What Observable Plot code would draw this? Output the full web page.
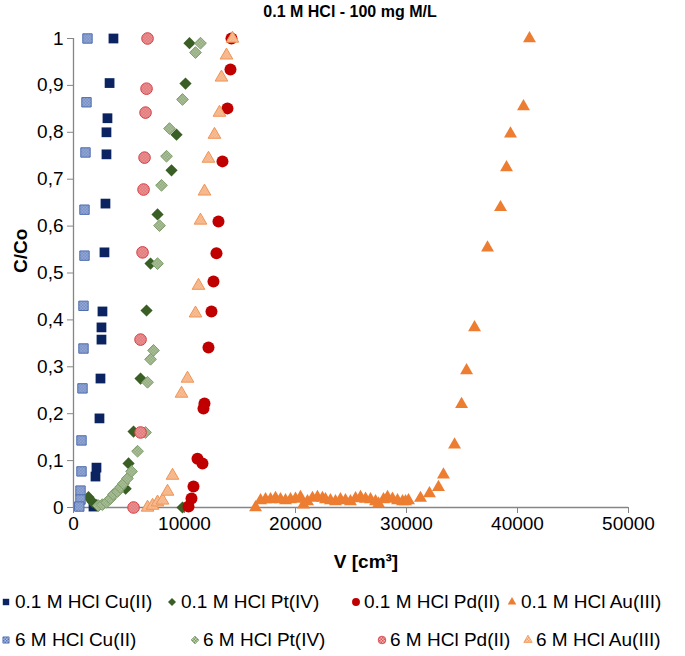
<!DOCTYPE html>
<html><head><meta charset="utf-8">
<script src="https://cdn.jsdelivr.net/npm/d3@7"></script>
<script src="https://cdn.jsdelivr.net/npm/@observablehq/plot@0.6"></script>
<style>
body{margin:0;background:#fff;font-family:"Liberation Sans",Arial,sans-serif;}
#wrap{position:relative;width:685px;height:656px;overflow:hidden;}
#title{height:28px;line-height:24px;font-weight:bold;font-size:16px;text-align:center;padding-left:15px;width:670px;color:#000;}
#legend{position:relative;height:68px;}
.item{position:absolute;font-size:19px;line-height:20px;white-space:nowrap;color:#000;}
.item svg{position:absolute;overflow:visible;}
</style></head>
<body><div id="wrap"><div id="title">0.1 M HCl - 100 mg M/L</div><div id="chart"></div><div id="legend"></div></div>
<script>
// ---- data: [V (cm3), C/Co] ----
const cu01 = [[3600,1.0],[3250,0.905],[3060,0.83],[2970,0.80],[2970,0.753],[2880,0.648],[2790,0.544],[2610,0.418],[2520,0.384],[2520,0.358],[2430,0.275],[2340,0.19],[2070,0.085],[1980,0.066],[1800,0.002]];
const cu6 = [[1260,1.0],[1170,0.864],[1080,0.757],[990,0.635],[990,0.537],[900,0.43],[900,0.339],[810,0.254],[720,0.143],[720,0.077],[630,0.036],[630,0.017],[520,0.002]];
const pt01 = [[1350,0.022],[1700,0.012],[2100,0.005],[4700,0.04],[4960,0.094],[5410,0.162],[6040,0.275],[6580,0.42],[6940,0.52],[7570,0.625],[8830,0.719],[9280,0.795],[10090,0.904],[10450,0.99],[9820,0.0]];
const pt6 = [[2250,0.004],[2600,0.006],[2970,0.011],[3330,0.019],[3600,0.028],[3960,0.034],[4230,0.043],[4500,0.051],[4860,0.062],[5230,0.077],[5770,0.12],[6490,0.16],[6670,0.267],[6940,0.316],[7210,0.335],[7570,0.52],[7750,0.601],[7930,0.687],[8380,0.749],[8650,0.808],[9820,0.87],[10990,0.97],[11440,0.99]];
const pd01 = [[14230,1.0],[14140,0.934],[13870,0.851],[13420,0.738],[13060,0.61],[12880,0.542],[12610,0.482],[12430,0.418],[12160,0.341],[11800,0.222],[11710,0.211],[11620,0.094],[11170,0.104],[10810,0.045],[10630,0.019],[10360,0.002]];
const pd6 = [[6670,1.0],[6580,0.893],[6490,0.842],[6400,0.746],[6310,0.678],[6220,0.544],[6040,0.358],[6040,0.16],[5410,0.0]];
const au01 = [[16400,0.0],[16850,0.015],[17300,0.017],[17750,0.017],[18200,0.02],[18650,0.017],[19100,0.015],[19550,0.017],[20000,0.018],[20450,0.022],[20720,0.006],[21080,0.013],[21530,0.02],[21980,0.022],[22430,0.02],[22700,0.017],[23150,0.015],[23600,0.013],[24050,0.017],[24500,0.015],[24950,0.013],[25410,0.019],[25860,0.022],[26310,0.018],[26760,0.017],[27210,0.013],[27480,0.008],[27930,0.017],[28290,0.022],[28740,0.018],[29190,0.015],[29640,0.013],[29910,0.013],[30180,0.015],[31260,0.02],[32070,0.03],[32880,0.043],[33330,0.07],[34330,0.134],[34960,0.22],[35410,0.292],[36130,0.384],[37300,0.554],[38470,0.64],[39010,0.725],[39370,0.797],[40540,0.855],[41080,1.0]];
const au6 = [[6670,0.0],[7120,0.004],[7570,0.011],[8020,0.015],[8470,0.034],[8920,0.068],[9730,0.243],[10270,0.275],[10990,0.414],[11260,0.473],[11440,0.612],[11800,0.674],[12160,0.744],[12700,0.795],[13150,0.842],[13330,0.917],[13780,0.964],[14320,1.0]];

const seriesNames = ["0.1 M HCl Cu(II)","0.1 M HCl Pt(IV)","0.1 M HCl Pd(II)","0.1 M HCl Au(III)","6 M HCl Cu(II)","6 M HCl Pt(IV)","6 M HCl Pd(II)","6 M HCl Au(III)"];
const xTicks = [0,10000,20000,30000,40000,50000];
const yTicks = [0,0.1,0.2,0.3,0.4,0.5,0.6,0.7,0.8,0.9,1];
const yTickLabels = ["0","0,1","0,2","0,3","0,4","0,5","0,6","0,7","0,8","0,9","1"];
const titleText = "0.1 M HCl - 100 mg M/L";
const xLabel = "V [cm³]";
const yLabel = "C/Co";

// ---- styles ----
const styles = [
  {data: cu01, symbol: "square", r: 5.5, fill: "#0B2461", stroke: "none"},
  {data: pt01, symbol: "diamond2", r: 5.5, fill: "#3A5F24", stroke: "none"},
  {data: pd01, symbol: "circle", r: 6, fill: "#C00000", stroke: "none"},
  {data: au01, symbol: "triangle", r: 4.8, fill: "#ED7D31", stroke: "none"},
  {data: cu6, symbol: "square", r: 5.3, fill: "url(#pCu)", stroke: "#4F6DB0"},
  {data: pt6, symbol: "diamond2", r: 5.3, fill: "url(#pPt)", stroke: "#7E9E6C"},
  {data: pd6, symbol: "circle", r: 5.8, fill: "url(#pPd)", stroke: "#D43F44"},
  {data: au6, symbol: "triangle", r: 4.7, fill: "url(#pAu)", stroke: "#F09455"}
];
const patterns = [
  {id: "pCu", base: "#B6C4E4", dot: "#5574B6"},
  {id: "pPt", base: "#C8D6BA", dot: "#76955F"},
  {id: "pPd", base: "#F4B8B8", dot: "#D85256"},
  {id: "pAu", base: "#FAD3B6", dot: "#F29E64"}
];

const font = '"Liberation Sans", Arial, sans-serif';
const chart = Plot.plot({
  width: 685, height: 560,
  marginTop: 10, marginBottom: 81, marginLeft: 73, marginRight: 57,
  style: {fontFamily: font, fontSize: "19px", color: "#000", background: "#fff"},
  x: {domain: [0, 50000]},
  y: {domain: [0, 1]},
  marks: [
    Plot.ruleY([0], {stroke: "#868686", strokeWidth: 1.3}),
    Plot.ruleX([0], {stroke: "#868686", strokeWidth: 1.3}),
    Plot.axisX(xTicks, {tickSize: 6, tickPadding: 3, stroke: "#868686", fill: "#000", label: null, tickFormat: d => String(d)}),
    Plot.axisY(yTicks, {tickSize: 6, tickPadding: 4, stroke: "#868686", fill: "#000", label: null, tickFormat: d => yTickLabels[yTicks.indexOf(d)]}),
    Plot.text([xLabel], {frameAnchor: "bottom", dy: 60, dx: 15, fontWeight: "bold", fontSize: 19}),
    Plot.text([yLabel], {frameAnchor: "left", dx: -53, rotate: -90, fontWeight: "bold", fontSize: 19}),
    ...styles.map(s => Plot.dot(s.data, {x: d => d[0], y: d => d[1], symbol: s.symbol, r: s.r, fill: s.fill, stroke: s.stroke, strokeWidth: 1}))
  ]
});
const defs = d3.select(chart).insert("defs", ":first-child");
for (const p of patterns) {
  const pat = defs.append("pattern").attr("id", p.id).attr("width", 3).attr("height", 3).attr("patternUnits", "userSpaceOnUse");
  pat.append("rect").attr("width", 3).attr("height", 3).attr("fill", p.base);
  pat.append("rect").attr("width", 1.5).attr("height", 1.5).attr("fill", p.dot);
  pat.append("rect").attr("x", 1.5).attr("y", 1.5).attr("width", 1.5).attr("height", 1.5).attr("fill", p.dot);
}
document.getElementById("chart").appendChild(chart);

// ---- legend ----
const legendPos = [
  {mx: 6, tx: 15, y: 14}, {mx: 172, tx: 181, y: 14}, {mx: 356, tx: 364, y: 14}, {mx: 512, tx: 521, y: 14},
  {mx: 6, tx: 15, y: 52}, {mx: 195, tx: 203, y: 52}, {mx: 382, tx: 390, y: 52}, {mx: 528, tx: 536, y: 52}
];
const symMap = {square: d3.symbolSquare, diamond2: d3.symbolDiamond2, circle: d3.symbolCircle, triangle: d3.symbolTriangle};
const legend = d3.select("#legend");
seriesNames.forEach((name, i) => {
  const s = styles[i], p = legendPos[i];
  const it = legend.append("div").attr("class", "item").style("left", "0px").style("top", (p.y - 10) + "px").style("width", "685px").style("height", "20px");
  const sv = it.append("svg").attr("width", 12).attr("height", 12).style("left", (p.mx - 6) + "px").style("top", "4px");
  const size = Math.PI * Math.pow(s.r * 0.66, 2);
  sv.append("path").attr("transform", "translate(6,6)").attr("d", d3.symbol(symMap[s.symbol], size)())
    .attr("fill", s.fill).attr("stroke", s.stroke).attr("stroke-width", 0.8);
  it.append("span").style("position", "absolute").style("left", p.tx + "px").style("top", "0px").text(name);
});
</script></body></html>
